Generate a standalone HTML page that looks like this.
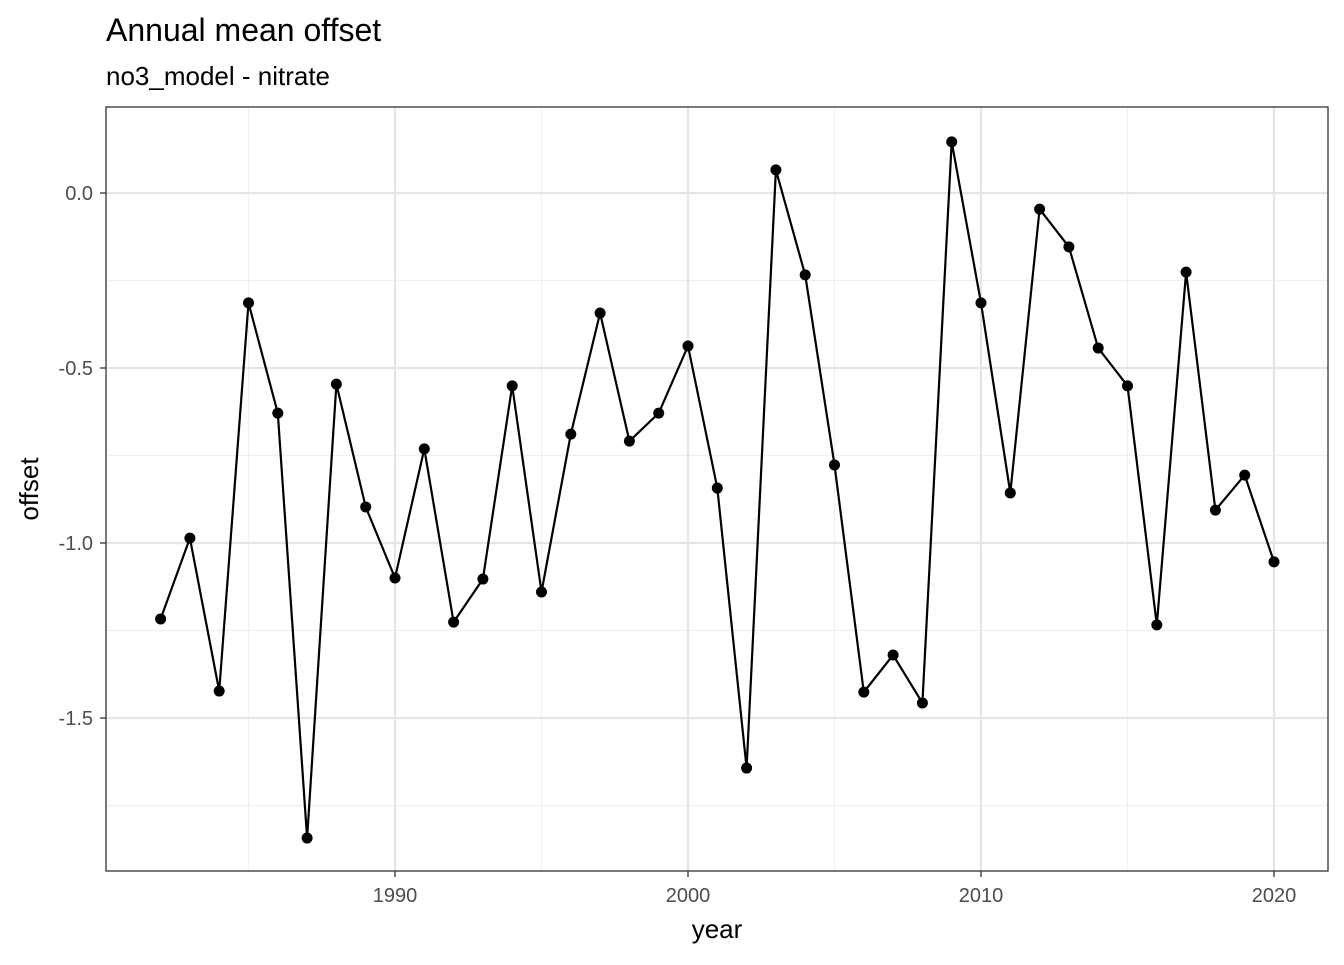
<!DOCTYPE html>
<html><head><meta charset="utf-8"><style>
body{margin:0;background:#fff;font-family:"Liberation Sans",sans-serif;}
</style></head><body>
<svg id="chart" width="1344" height="960" xmlns="http://www.w3.org/2000/svg">
<text x="106" y="41" font-size="32" fill="#000">Annual mean offset</text>
<text x="106" y="85" font-size="26" fill="#000">no3_model - nitrate</text>
<g id="grid"></g>
<g id="axes"></g>
<g id="marks"></g>
<rect x="106" y="107" width="1222" height="764" fill="none" stroke="#333" stroke-width="1.3"/>
<text x="717" y="938" font-size="26" text-anchor="middle">year</text>
<text transform="translate(38,489) rotate(-90)" font-size="26" text-anchor="middle">offset</text>
</svg>
<script>
const years=[1982,1983,1984,1985,1986,1987,1988,1989,1990,1991,1992,1993,1994,1995,1996,1997,1998,1999,2000,2001,2002,2003,2004,2005,2006,2007,2008,2009,2010,2011,2012,2013,2014,2015,2016,2017,2018,2019,2020];
const offsets=[-1.217,-0.986,-1.423,-0.314,-0.629,-1.843,-0.546,-0.897,-1.1,-0.731,-1.226,-1.103,-0.551,-1.14,-0.689,-0.343,-0.709,-0.629,-0.437,-0.843,-1.643,0.066,-0.234,-0.777,-1.426,-1.32,-1.457,0.146,-0.314,-0.857,-0.046,-0.154,-0.443,-0.551,-1.234,-0.226,-0.906,-0.806,-1.054];
const xTicks=[1990,2000,2010,2020];
const xMinor=[1985,1995,2005,2015];
const yTicks=[0,-0.5,-1.0,-1.5];
const yTickLabels=["0.0","-0.5","-1.0","-1.5"];
const yMinor=[0.25,-0.25,-0.75,-1.25,-1.75];
const NS="http://www.w3.org/2000/svg";
const X0=106,X1=1328,Y0=107,Y1=871;
const xs=v=>395+(v-1990)*29.3;
const ys=v=>193-v*350;
function mk(t,a,p){const e=document.createElementNS(NS,t);for(const k in a)e.setAttribute(k,a[k]);p.appendChild(e);return e;}
const grid=document.getElementById('grid'),axes=document.getElementById('axes'),marks=document.getElementById('marks');
xMinor.forEach(v=>{const l=mk('line',{x1:xs(v),x2:xs(v),y1:Y0,y2:Y1,stroke:'#f0f0f0','stroke-width':1.2},grid);

});
yMinor.forEach(v=>{const y=ys(v);if(y<Y0||y>Y1)return;const l=mk('line',{x1:X0,x2:X1,y1:y,y2:y,stroke:'#f0f0f0','stroke-width':1.2},grid);

});
xTicks.forEach(v=>{const l=mk('line',{x1:xs(v),x2:xs(v),y1:Y0,y2:Y1,stroke:'#e5e5e5','stroke-width':2.2},grid);


const t=mk('line',{x1:xs(v),x2:xs(v),y1:Y1,y2:Y1+6,stroke:'#333','stroke-width':1.3},axes);


const tx=mk('text',{x:xs(v),y:Y1+31,'font-size':20,fill:'#4d4d4d','text-anchor':'middle'},axes);tx.textContent=v;

});
yTicks.forEach((v,i)=>{const l=mk('line',{x1:X0,x2:X1,y1:ys(v),y2:ys(v),stroke:'#e5e5e5','stroke-width':2.2},grid);


const t=mk('line',{x1:X0-6,x2:X0,y1:ys(v),y2:ys(v),stroke:'#333','stroke-width':1.3},axes);


const tx=mk('text',{x:X0-13,y:ys(v)+7,'font-size':20,fill:'#4d4d4d','text-anchor':'end'},axes);tx.textContent=yTickLabels[i];

});
const pts=years.map((y,i)=>xs(y)+','+ys(offsets[i])).join(' ');
const pl=mk('polyline',{points:pts,fill:'none',stroke:'#000','stroke-width':2.2},marks);


years.forEach((y,i)=>{const c=mk('circle',{cx:xs(y),cy:ys(offsets[i]),r:5.5,fill:'#000'},marks);

});
</script>
</body></html>
